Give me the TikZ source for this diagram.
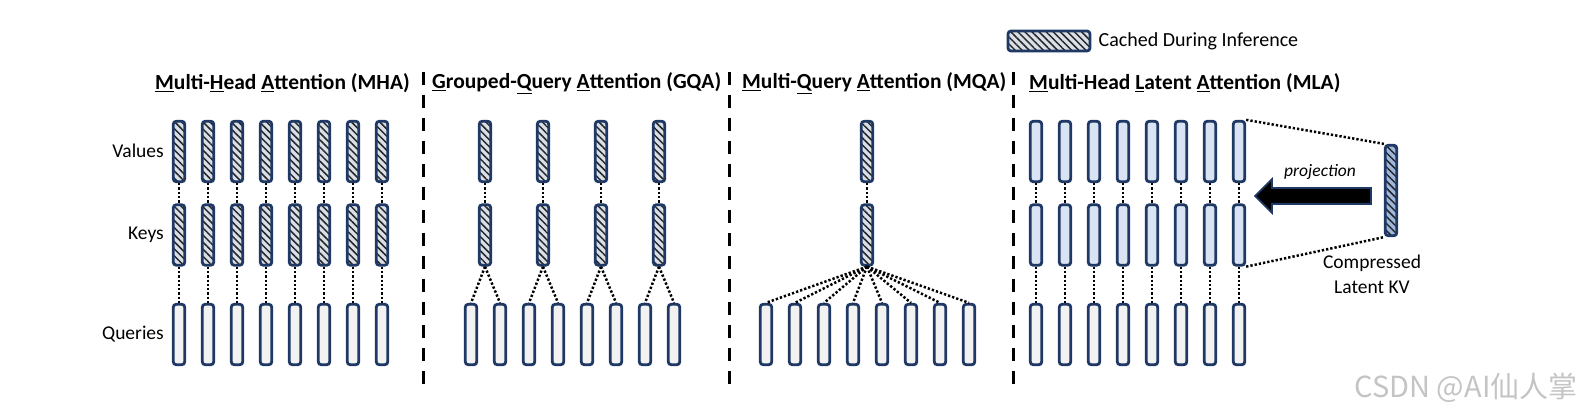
\documentclass[tikz,border=0pt]{standalone}
\usepackage{fontspec}
\setmainfont{Carlito}
\newfontfamily\cjkfont{Noto Sans CJK SC}
\usetikzlibrary{positioning,patterns.meta,shapes.arrows}
\definecolor{KVNavy}{HTML}{1F3864}
\definecolor{KVQuery}{HTML}{F2F2F2}
\definecolor{KVLatent}{HTML}{DAE3F3}
\definecolor{KVHatchBg}{HTML}{D9DFE8}
\definecolor{KVCompBg}{HTML}{9DB7DD}
\definecolor{KVMark}{HTML}{C4C4C4}
\tikzset{
  bar/.style={draw=KVNavy,line width=2.8pt,rounded corners=3pt,inner sep=0pt,
              minimum width=11.5pt,minimum height=60.5pt},
  querybar/.style={bar,fill=KVQuery},
  latentbar/.style={bar,fill=KVLatent},
  cachedbar/.style={bar,preaction={fill=KVHatchBg},
              preaction={pattern={Lines[angle=-45,distance=5pt,line width=1.5pt]},pattern color=black!85}},
  compbar/.style={bar,preaction={fill=KVCompBg},
              preaction={pattern={Lines[angle=-45,distance=5pt,line width=1.5pt]},pattern color=black!85}},
  link/.style={line width=2.5pt,dash pattern=on 2.3pt off 2pt},
  divider/.style={line width=3pt,dash pattern=on 13pt off 10pt},
  projarrow/.style={single arrow,shape border rotate=180,draw=KVNavy,fill=black,line width=1.8pt,
              inner xsep=0pt,inner ysep=7pt,single arrow head extend=9pt,
              minimum width=32pt,minimum height=116pt},
  rowlabel/.style={inner sep=0pt,font=\fontsize{19.5}{25}\selectfont,align=center},
  title/.style={inner sep=0pt,anchor=west,font=\fontsize{21.5}{25}\selectfont\bfseries},
  watermark/.style={inner sep=0pt,text=KVMark,font=\cjkfont\fontsize{29}{32}\selectfont},
}
\begin{document}
\begin{tikzpicture}[x=1pt,y=-1pt]
  \useasboundingbox (0,0) rectangle (1583,414);

  % legend
  \node[cachedbar,minimum width=82pt,minimum height=20pt] (legend) at (1049,41) {};
  \node[rowlabel,font=\fontsize{20}{24}\selectfont,right=7pt of legend] (legendtext) {Cached During Inference};

  % titles
  \node[title] (mhatitle) at (155,83) {\underline{M}ulti-\underline{H}ead \underline{A}ttention (MHA)};
  \node[title] (gqatitle) at (432,83) {\underline{G}rouped-\underline{Q}uery \underline{A}ttention (GQA)};
  \node[title] (mqatitle) at (742,83) {\underline{M}ulti-\underline{Q}uery \underline{A}ttention (MQA)};
  \node[title] (mlatitle) at (1029,83) {\underline{M}ulti-Head \underline{L}atent \underline{A}ttention (MLA)};

  % row labels
  \node[rowlabel,anchor=east] (vlabel) at (164,151) {Values};
  \node[rowlabel,anchor=east] (klabel) at (164,235) {Keys};
  \node[rowlabel,anchor=east] (qlabel) at (164,334) {Queries};

  % separators
  \draw[divider] (423,72) -- (423,387);
  \draw[divider] (729,72) -- (729,387);
  \draw[divider] (1013,72) -- (1013,387);

  % MHA
  \foreach \i in {1,...,8}{
    \node[cachedbar] (mha-v\i) at (150+29*\i,151.5) {};
    \node[cachedbar] (mha-k\i) at (150+29*\i,235) {};
    \node[querybar] (mha-q\i) at (150+29*\i,334.5) {};
    \draw[link] (mha-v\i) -- (mha-k\i);
    \draw[link] (mha-k\i) -- (mha-q\i);
  }

  % GQA
  \foreach \i in {1,...,8}
    \node[querybar] (gqa-q\i) at (442+29*\i,334.5) {};
  \foreach \j [evaluate=\j as \a using int(2*\j-1),evaluate=\j as \b using int(2*\j)] in {1,...,4}{
    \node[cachedbar] (gqa-v\j) at (427+58*\j,151.5) {};
    \node[cachedbar] (gqa-k\j) at (427+58*\j,235) {};
    \draw[link] (gqa-v\j) -- (gqa-k\j);
    \draw[link] (gqa-k\j.south) -- (gqa-q\a.north);
    \draw[link] (gqa-k\j.south) -- (gqa-q\b.north);
  }

  % MQA
  \node[cachedbar] (mqa-v) at (867,151.5) {};
  \node[cachedbar] (mqa-k) at (867,235) {};
  \draw[link] (mqa-v) -- (mqa-k);
  \foreach \i in {1,...,8}{
    \node[querybar] (mqa-q\i) at (737+29*\i,334.5) {};
    \draw[link] (mqa-k.south) -- (mqa-q\i.north);
  }

  % MLA
  \foreach \i in {1,...,8}{
    \node[latentbar] (mla-v\i) at (1007+29*\i,151.5) {};
    \node[latentbar] (mla-k\i) at (1007+29*\i,235) {};
    \node[querybar] (mla-q\i) at (1007+29*\i,334.5) {};
    \draw[link] (mla-v\i) -- (mla-k\i);
    \draw[link] (mla-k\i) -- (mla-q\i);
  }
  \node[compbar,minimum height=90.5pt] (ckv) at (1391,190.5) {};
  \draw[link] (mla-v8.north east) -- (ckv.north west);
  \draw[link] (mla-k8.south east) -- (ckv.south west);
  \node[projarrow] (proj) at (1317,196) {};
  \node[rowlabel,font=\fontsize{17.5}{21}\selectfont\itshape] (projtext) at (1320,172) {projection};
  \node[rowlabel] (ckvtext) at (1372,274.5) {Compressed\\Latent KV};

  \node[watermark] (mark) at (1466,388) {CSDN @AI仙人掌};
\end{tikzpicture}
\end{document}
